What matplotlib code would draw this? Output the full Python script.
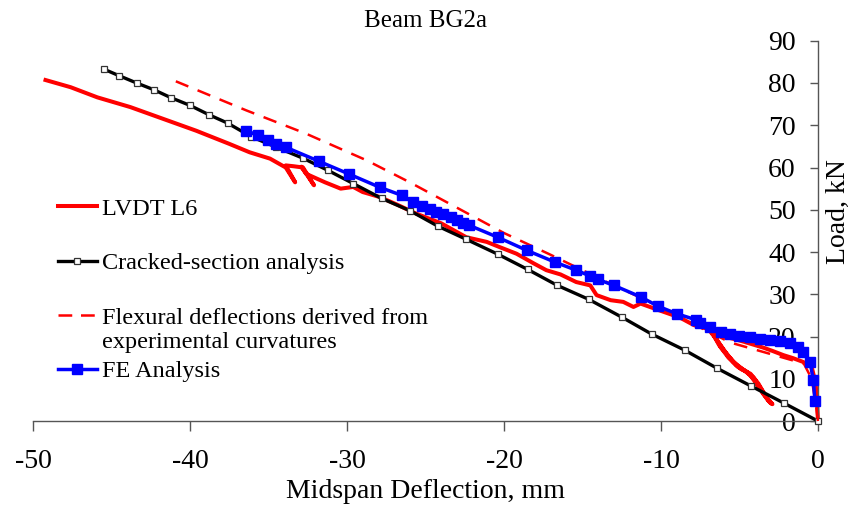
import matplotlib
matplotlib.use("Agg")
import matplotlib.pyplot as plt
from matplotlib.lines import Line2D

plt.rcParams['font.family'] = ['Liberation Serif', 'DejaVu Serif']

# LVDT L6 measured load-deflection (incl. unload/reload cycles)
lvdt_x = [0, -0.05, -0.15, -0.4, -0.95, -1.6, -2.2, -2.9, -3.5, -4.3, -5.2, -6.0, -6.7,
          -6.2, -5.5, -4.9, -4.3, -3.8, -3.3, -2.9,
          -3.1, -3.6, -4.1, -4.6, -5.2, -5.8, -6.4, -6.8,
          -6.3, -5.7, -5.1, -4.5, -4.0, -3.5, -3.0,
          -3.2, -3.8, -4.3, -4.8, -5.4, -6.0, -6.6, -7.0,
          -7.9, -8.8, -10.1, -10.7, -11.3, -11.75, -12.4, -13.2, -14.1, -14.5, -15.4,
          -16.4, -17.3, -18.1, -19.2, -20.3, -21.1, -22.4, -24.0, -25.6, -26.8, -27.9,
          -29.0, -29.6, -30.4, -31.4, -32.6, -32.9,
          -32.1, -32.8, -33.4, -33.9,
          -33.3, -33.9, -34.9, -36.2, -37.5, -39.6, -41.7, -43.8, -45.9, -47.6, -49.2]
lvdt_y = [0, 4.0, 9.0, 12.8, 14.0, 14.9, 15.6, 16.6, 17.4, 18.3, 19.3, 20.0, 21.1,
          17.5, 14.5, 12.3, 11.2, 8.9, 5.7, 4.0,
          4.6, 7.5, 10.3, 11.8, 13.2, 15.8, 19.0, 21.3,
          18.0, 15.0, 12.8, 11.6, 9.6, 6.5, 4.2,
          5.0, 8.2, 10.8, 12.3, 14.0, 16.8, 20.0, 21.8,
          22.7, 24.5, 26.2, 27.0, 27.8, 27.0, 28.2, 28.6, 29.8, 32.1, 32.9,
          34.7, 35.7, 37.3, 39.6, 41.2, 42.4, 43.5, 46.8, 49.1, 51.2, 53.0,
          54.2, 55.4, 55.0, 56.5, 58.5, 60.2,
          55.8, 60.0, 60.3, 60.5,
          56.5, 60.0, 62.1, 63.6, 65.6, 68.7, 71.5, 74.3, 76.6, 79.0, 80.7]

# Cracked-section analysis
crk_x = [0, -2.17, -4.27, -6.43, -8.5, -10.6, -12.5, -14.6, -16.6, -18.5, -20.4, -22.4,
         -24.2, -26.0, -27.8, -29.6, -31.2, -32.8, -34.5, -36.1, -37.6, -38.8, -40.0,
         -41.2, -42.3, -43.4, -44.5, -45.5]
crk_y = [0, 4.25, 8.3, 12.5, 16.8, 20.6, 24.6, 28.8, 32.1, 35.9, 39.5, 43.0,
         46.1, 49.8, 52.7, 56.2, 59.3, 62.2, 64.8, 67.3, 70.5, 72.5, 74.7,
         76.5, 78.4, 80.0, 81.7, 83.3]

# Flexural deflections from experimental curvatures
flx_x = [0, -0.1, -0.4, -0.9, -2.4, -3.9, -5.6, -6.7, -8.8, -10.5, -13.5, -17.0,
         -20.0, -23.0, -26.0, -28.75, -32.6, -36.4, -40.9]
flx_y = [0, 3.0, 10.0, 13.6, 15.2, 16.8, 18.6, 20.7, 24.5, 27.8, 33.0, 39.3,
         44.5, 50.5, 56.5, 61.7, 68.0, 73.5, 80.4]

# FE analysis
fe_x = [-0.19, -0.3, -0.5, -0.94, -1.25, -1.8, -2.4, -3.06, -3.7, -4.3, -5.0, -5.6,
        -6.2, -6.9, -7.5, -7.8, -9.0, -10.2, -11.3, -13.0, -14.0, -14.5, -15.4, -16.75,
        -18.55, -20.4, -22.2, -22.6, -23.0, -23.4, -23.9, -24.3, -24.7, -25.2, -25.8,
        -26.5, -27.9, -29.9, -31.8, -33.9, -34.5, -35.0, -35.65, -36.4]
fe_y = [4.8, 9.7, 14.0, 16.4, 17.6, 18.5, 19.0, 19.3, 19.5, 19.8, 20.1, 20.5,
        21.1, 22.3, 23.2, 24.0, 25.4, 27.2, 29.4, 32.1, 33.5, 34.3, 35.7, 37.6,
        40.4, 43.5, 46.3, 46.8, 47.5, 48.3, 49.1, 49.4, 50.2, 51.0, 51.8,
        53.4, 55.3, 58.5, 61.5, 64.8, 65.6, 66.4, 67.6, 68.7]

x_ticks = [-50, -40, -30, -20, -10, 0]
y_ticks = [0, 10, 20, 30, 40, 50, 60, 70, 80, 90]

fig = plt.figure(figsize=(8.54, 5.11), dpi=100)
ax = fig.add_axes([0.0386, 0.176, 0.9192, 0.7443])

red, = ax.plot(lvdt_x, lvdt_y, color='#ff0000', lw=2.9, solid_joinstyle='round',
               clip_on=False, zorder=2)
blk, = ax.plot(crk_x, crk_y, color='black', lw=2.4, marker='s', ms=4.5,
               mfc='white', mec='#333333', mew=0.9, clip_on=False, zorder=3)
dsh, = ax.plot(flx_x, flx_y, color='#ff0000', lw=1.8, dashes=(5.5, 4),
               clip_on=False, zorder=4)
blu, = ax.plot(fe_x, fe_y, color='#0000ff', lw=2.5, marker='s', ms=6.5,
               mfc='#0000ff', mec='#0000ff', clip_on=False, zorder=5)

ax.set_xlim(-50, 0)
ax.set_ylim(0, 90)
ax.set_xticks(x_ticks)
ax.set_xticklabels([str(v) for v in x_ticks])
ax.set_yticks(y_ticks)

for s in ('top', 'right'):
    ax.spines[s].set_visible(False)
ax.spines['left'].set_position(('axes', 1.0))
for s in ('left', 'bottom'):
    ax.spines[s].set_color('#555555')
    ax.spines[s].set_linewidth(1.0)

ax.tick_params(axis='x', direction='out', length=7, width=1.0, color='#555555',
               labelsize=20, pad=13)
ax.tick_params(axis='y', direction='out', length=6, width=1.0, color='#555555',
               labelsize=20, pad=10)

ax.set_xlabel('Midspan Deflection, mm', fontsize=20, labelpad=4)
ax.set_ylabel('Load, kN', fontsize=20)
ax.yaxis.set_label_position('right')
ax.yaxis.set_label_coords(1.010, 0.55)
ax.set_title('Beam BG2a', fontsize=18, pad=10)

# legend entries, stacked with Excel-like spacing
leg_kw = dict(frameon=False, fontsize=17.5, handlelength=1.6, handletextpad=0.19,
              borderpad=0, borderaxespad=0, loc='center left',
              bbox_transform=fig.transFigure)
x0 = 58 / 854
l1 = ax.legend([Line2D([], [], color='#ff0000', lw=2.9)], ['LVDT L6'],
               bbox_to_anchor=(x0, 1 - 209 / 511), **leg_kw)
ax.add_artist(l1)
l2 = ax.legend([Line2D([], [], color='black', lw=2.4, marker='s', ms=4.5,
                       mfc='white', mec='#333333', mew=0.9)],
               ['Cracked-section analysis'],
               bbox_to_anchor=(x0, 1 - 263 / 511), **leg_kw)
ax.add_artist(l2)
l3 = ax.legend([Line2D([], [], color='#ff0000', lw=1.8, dashes=(5.5, 3.5)),
                Line2D([], [], color='none')],
               ['Flexural deflections derived from', 'experimental curvatures'],
               bbox_to_anchor=(x0, 1 - 330 / 511), labelspacing=0.12, **leg_kw)
ax.add_artist(l3)
ax.legend([Line2D([], [], color='#0000ff', lw=2.5, marker='s', ms=6.5)],
          ['FE Analysis'], bbox_to_anchor=(x0, 1 - 371 / 511), **leg_kw)

fig.savefig('out.png', dpi=100)
